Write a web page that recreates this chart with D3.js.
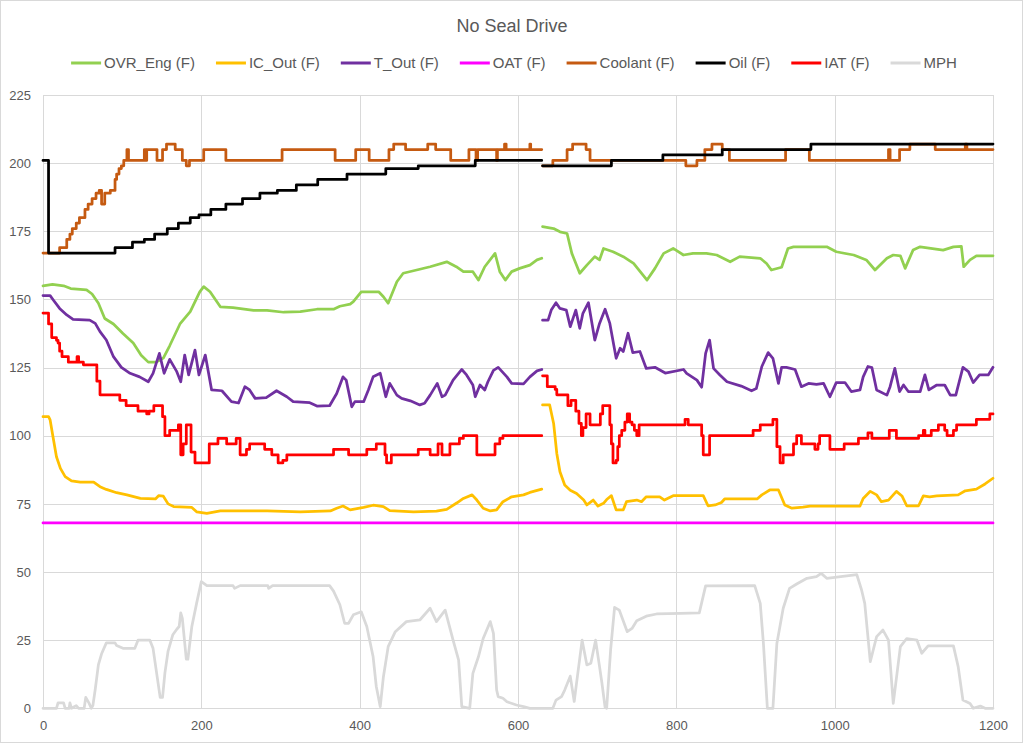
<!DOCTYPE html>
<html>
<head>
<meta charset="utf-8">
<script src="https://cdn.jsdelivr.net/npm/d3@7"></script>
<style>
  body { margin: 0; background: #fff; }
  svg { display: block; }
  text { font-family: "Liberation Sans", Arial, sans-serif; fill: #595959; }
</style>
</head>
<body>
<div id="chart"></div>
<script>
// ---- data: [time, value]; null marks the break between the two drives
var ovrEng = [[0,155],[12,155.5],[26,155],[35,154],[55,153.5],[62,152],[70,148.6],[78,143],[89,141],[101,137.5],[114,134],[124,129.5],[133,127],[143,127],[152,128.5],[160,133],[173,141],[186,145.5],[198,152.8],[203,154.7],[211,152.8],[224,147.3],[240,147],[266,146],[283,146],[304,145.3],[325,145.5],[346,146.4],[367,146.4],[375,147.5],[388,148.3],[392,149.2],[402,152.8],[424,152.8],[430,151],[436,148.6],[447,156.5],[455,159.6],[472,160.8],[489,162],[510,163.8],[522,162],[531,160.2],[543,160.2],[550,157.1],[558,162],[571,166.9],[577,160.2],[584,157.1],[592,160.2],[602,161.4],[615,162.6],[624,164.5],[630,165.1],
  null,
  [631,176.7],[645,176],[653,174.8],[662,174.2],[668,166.9],[678,159.6],[687,162.6],[697,165.7],[703,164.5],[708,168.7],[720,167.5],[733,165.7],[746,163.2],[763,157.1],[773,161.4],[784,166.9],[796,168.7],[809,166.3],[821,166.9],[838,166.9],[851,166.3],[868,163.8],[880,165.7],[906,165.1],[914,163.2],[920,160.8],[933,161.8],[941,168.7],[948,169.3],[990,169.3],[1002,167.5],[1024,166.3],[1040,164.5],[1051,160.8],[1066,165.1],[1074,166.3],[1083,166],[1089,161.4],[1099,168.1],[1108,169.3],[1137,168.1],[1150,169.3],[1160,169.5],[1163,162],[1171,164.5],[1179,166],[1200,166]];

var icOut = [[0,107],[7,107],[9,105.8],[13,99],[17,92.3],[22,88],[28,85],[36,83.4],[47,83],[64,83],[72,81.3],[80,80.3],[93,79.1],[106,78.3],[123,77],[142,76.8],[146,78],[152,77.8],[158,75],[165,74],[188,73.7],[194,72.1],[207,71.5],[224,72.4],[283,72.4],[325,72.1],[363,72.4],[371,73.4],[379,74.2],[388,72.8],[405,73.7],[417,74.5],[430,74],[438,72.5],[468,72.1],[497,72.3],[510,73],[523,75.4],[531,77],[542,78.3],[548,76.4],[556,73.4],[565,72.4],[573,72.8],[581,75.8],[592,77.6],[607,78.3],[615,79.2],[630,80.4],
  null,
  [631,111.3],[640,111.3],[645,104.5],[649,93.5],[653,86.8],[659,81.9],[666,80],[674,78.8],[683,76.4],[687,74.6],[695,76.4],[701,74.2],[708,75.2],[712,76.6],[718,78],[724,72.8],[733,72.8],[737,75.8],[750,76.4],[756,75.8],[762,77.6],[779,77.6],[785,76.4],[796,78],[834,78],[840,74.3],[849,74.6],[857,75.5],[861,76.8],[902,76.8],[908,78.3],[918,80.1],[929,80.1],[937,74.6],[946,73.4],[960,73.8],[969,74.2],[1032,74.2],[1036,77],[1045,79.6],[1053,78.3],[1059,75.8],[1068,76.4],[1078,79.6],[1085,77.9],[1091,74.3],[1106,74.3],[1112,77.9],[1120,77.6],[1129,77.9],[1156,78.3],[1165,79.8],[1179,80.4],[1190,82.3],[1200,84.4]];

var tOut = [[0,151.4],[9,151.4],[13,149.8],[21,146.7],[30,144.3],[38,142.7],[59,142.4],[66,141.2],[72,138.2],[80,135.1],[89,129],[99,125.1],[110,122.9],[122,121.6],[133,119.8],[139,122.9],[147,130.2],[153,122.9],[160,128],[169,123.5],[174,119.8],[179,129.6],[184,122.3],[192,131.4],[197,122.3],[205,129.6],[213,116.8],[226,116.5],[238,112.5],[247,112],[255,118],[261,116.8],[268,113.7],[282,114],[295,116.5],[308,114.3],[316,112.5],[337,112.1],[346,110.9],[362,111],[371,115.5],[379,121.6],[383,120.4],[390,110.6],[394,112.5],[405,112.5],[411,116.8],[417,121.6],[426,122.9],[433,114.3],[438,119.2],[447,114.9],[453,113.7],[464,112.8],[476,111.3],[482,111.9],[489,114.9],[498,119.2],[504,114.3],[508,114.9],[518,120.4],[529,124.3],[535,122.3],[543,118.6],[546,114.3],[552,118.6],[558,116.8],[562,119.8],[569,124],[575,125.1],[586,121.6],[592,119.2],[607,119],[615,121.6],[624,123.8],[630,124.3],
  null,
  [631,142.4],[638,142.4],[642,146.1],[648,148.8],[653,146.7],[661,146.1],[666,140],[673,146.1],[678,139.4],[682,144.9],[689,148.8],[697,135.1],[703,141.2],[710,146.4],[716,141.2],[724,128.4],[729,132.1],[733,130.9],[739,137.6],[745,130.5],[754,130.9],[762,124.7],[773,125.1],[786,123],[809,124.3],[813,122.9],[826,120.4],[832,117.8],[837,130.2],[842,135.1],[847,124.7],[855,122.3],[864,119.8],[882,118.2],[895,116.5],[901,117.3],[908,125.4],[916,130.5],[922,128.4],[929,119.2],[933,125.1],[939,125.1],[950,124.3],[958,118],[967,119.2],[977,118.8],[986,119.2],[994,114.3],[1002,119.5],[1013,119.5],[1021,116.2],[1032,116.8],[1036,121.6],[1042,125.4],[1047,125],[1053,116.8],[1066,114.9],[1070,118],[1076,124.7],[1082,116.2],[1087,118.6],[1093,116.2],[1108,116.2],[1114,122.3],[1119,116.8],[1129,118.6],[1139,118.6],[1146,114.9],[1153,114.9],[1162,125.1],[1169,123.5],[1175,119.5],[1183,122.3],[1194,122.3],[1200,125.1]];

var oat = [[0,68],[630,68],[631,68],[1200,68]];

// coolant, oil and IAT are stepped readings
var coolant = [[0,167],[21,169],[30,172],[34,174],[37,176],[42,178],[46,180],[53,183],[57,185],[62,187],[67,189],[71,190],[74,185],[78,189],[85,190],[91,194],[93,196],[96,198],[99,199],[102,201],[106,205],[108,201],[128,205],[130,201],[131,205],[144,201],[151,205],[156,207],[167,205],[176,201],[181,199],[185,201],[203,205],[231,201],[302,205],[369,201],[395,205],[412,201],[437,205],[443,207],[458,205],[486,207],[496,205],[515,201],[538,205],[547,201],[549,205],[573,201],[574,205],[583,207],[585,205],[615,207],[616,205],[630,205],
  null,
  [631,199],[644,201],[662,205],[669,207],[686,205],[691,201],[812,199],[826,201],[836,205],[845,207],[858,205],[867,201],[938,205],[968,201],[1068,205],[1070,201],[1082,205],[1095,207],[1127,205],[1165,207],[1167,205],[1200,205]];

var oil = [[0,201],[7,167],[91,169],[113,171],[128,172],[141,174],[157,176],[171,178],[186,180],[197,181],[212,183],[231,185],[252,187],[274,189],[296,190],[320,192],[347,194],[384,196],[433,198],[474,199],[546,201],[630,201],
  null,
  [631,199],[718,201],[783,203],[858,205],[970,207],[1200,207]];

var iat = [[0,145],[7,141],[11,136],[17,135],[19,134],[21,131],[24,129],[32,127],[43,129],[45,127],[51,126],[68,120],[72,115],[97,113],[105,111],[120,109],[131,108],[134,109],[140,111],[151,107],[154,100],[160,102],[171,104],[174,93],[177,97],[181,104],[187,94],[192,90],[205,90],[210,97],[221,99],[232,97],[244,99],[249,93],[257,95],[261,97],[280,95],[289,93],[297,90],[303,91],[308,93],[367,95],[386,93],[409,95],[421,97],[432,93],[434,90],[440,93],[474,95],[480,95],[489,93],[499,97],[504,93],[514,97],[526,99],[531,100],[548,93],[565,93],[571,97],[577,99],[581,100],[630,100],
  null,
  [631,122],[637,118],[647,117],[649,115],[662,115],[663,111],[667,113],[672,113],[673,109],[677,104.5],[680,100],[682,103],[686,108],[691,104],[702,104],[704,108],[707,111],[715,111],[716,104],[718,97],[720,90],[724,91],[726,96],[728,100],[731,102],[735,105],[738,108],[741,105],[744,104],[747,102],[750,100],[753,104],[811,106],[815,104],[829,104],[832,100],[834,93],[840,93],[842,100],[895,100],[897,102],[906,104],[922,106],[927,96],[931,90],[935,93],[946,93],[948,97],[952,100],[958,97],[975,95],[979,97],[981,100],[994,95],[1012,97],[1030,99],[1042,101],[1047,99],[1069,102],[1078,99],[1106,100],[1112,102],[1114,100],[1122,102],[1131,104],[1139,102],[1142,100],[1150,102],[1154,104],[1179,106],[1196,108],[1200,108]];

var mph = [[0,0],[17,0],[19,2],[26,2],[28,0],[33,0],[34,2],[36,0],[42,1],[45,0],[52,0],[54,4],[58,2],[61,0],[63,1],[66,7],[70,16],[74,20],[80,24],[91,24],[93,23],[101,22],[116,22],[120,25],[135,25],[139,22],[144,12],[148,4],[151,4],[154,13],[158,21],[164,27],[169,29],[172,30],[174,35],[176,33],[181,18],[183,18],[188,30],[194,38.5],[200,46.5],[207,45],[240,45],[242,44],[249,45],[284,45],[285,44],[290,45],[362,45],[367,43],[375,38],[381,31.2],[386,31.2],[392,34.3],[402,35.4],[409,30],[417,18.9],[421,8],[426,0.6],[430,11.6],[436,22.6],[445,28.1],[459,31.8],[476,32.4],[489,36.7],[497,31.8],[508,36],[518,25],[525,17.7],[529,0.6],[539,0],[543,12.8],[550,18.9],[556,25.6],[565,31.8],[569,27.5],[573,6.7],[575,4.3],[581,3.7],[586,2.4],[598,1.2],[607,0.6],[615,0],[644,0],[648,3],[655,4.3],[659,6.7],[666,11.8],[671,2.5],[675,11.6],[681,25],[687,15.9],[692,16.5],[698,25],[703,15.3],[706,9.3],[710,0.4],[712,0],[717,21.4],[722,37],[728,36],[738,28.1],[744,29.3],[750,32.1],[762,33.8],[775,34.6],[805,34.8],[829,35],[837,44.9],[899,45],[906,38.5],[910,23.8],[915,0],[922,0],[927,23.8],[935,36.7],[943,44],[952,45.6],[965,47.7],[977,48.3],[983,49.5],[990,47.7],[1028,49],[1034,43.4],[1038,38.5],[1045,17.1],[1053,26.3],[1061,28.7],[1068,25],[1074,1.8],[1083,22.6],[1091,25.6],[1104,25],[1110,20.2],[1118,22.9],[1150,22.9],[1156,15.3],[1162,3],[1171,1.8],[1175,0],[1184,0.8],[1190,0],[1200,0]];

var seriesNames = ["OVR_Eng (F)", "IC_Out (F)", "T_Out (F)", "OAT (F)", "Coolant (F)", "Oil (F)", "IAT (F)", "MPH"];
var seriesColors = ["#92D050", "#FFC000", "#7030A0", "#FF00FF", "#C55A11", "#000000", "#FF0000", "#D9D9D9"];
var seriesStepped = [false, false, false, false, true, true, true, false];
var xTicks = [0, 200, 400, 600, 800, 1000, 1200];
var yTicks = [0, 25, 50, 75, 100, 125, 150, 175, 200, 225];

var series = [ovrEng, icOut, tOut, oat, coolant, oil, iat, mph].map(function(d, i) {
    return {name: seriesNames[i], values: d, color: seriesColors[i], step: seriesStepped[i]};
});

var width = 1024, height = 744;
var margin = {top: 95, right: 31, bottom: 35.7, left: 43};

var svg = d3.select('#chart').append('svg')
    .attr('width', width)
    .attr('height', height);

// chart border
svg.append('rect')
    .attr('x', 0.5).attr('y', 0.5)
    .attr('width', width - 2).attr('height', height - 2)
    .attr('fill', '#fff')
    .attr('stroke', '#D9D9D9');

var x = d3.scaleLinear().domain([0, 1200]).range([margin.left, width - margin.right]);
var y = d3.scaleLinear().domain([0, 225]).range([height - margin.bottom, margin.top]);

// gridlines
svg.append('g').selectAll('line.h')
    .data(yTicks).enter().append('line')
    .attr('x1', x(0)).attr('x2', x(1200))
    .attr('y1', function(d) { return Math.round(y(d)) + 0.5; })
    .attr('y2', function(d) { return Math.round(y(d)) + 0.5; })
    .attr('stroke', '#D9D9D9');
svg.append('g').selectAll('line.v')
    .data(xTicks).enter().append('line')
    .attr('y1', y(0)).attr('y2', y(225))
    .attr('x1', function(d) { return Math.round(x(d)) + 0.5; })
    .attr('x2', function(d) { return Math.round(x(d)) + 0.5; })
    .attr('stroke', '#D9D9D9');

// axes (labels only)
var yAxis = svg.append('g')
    .attr('transform', 'translate(' + (x(0) - 12) + ',0)')
    .call(d3.axisLeft(y).tickValues(yTicks).tickSize(0).tickPadding(0));
var xAxis = svg.append('g')
    .attr('transform', 'translate(0,' + (y(0) + 12) + ')')
    .call(d3.axisBottom(x).tickValues(xTicks).tickFormat(d3.format('d')).tickSize(0).tickPadding(0));
[xAxis, yAxis].forEach(function(a) {
    a.select('.domain').remove();
    a.selectAll('text').style('font-size', '13px').attr('fill', '#595959')
        .style('font-family', '"Liberation Sans", Arial, sans-serif');
});

// lines
var line = d3.line()
    .defined(function(d) { return d !== null; })
    .x(function(d) { return x(d[0]); })
    .y(function(d) { return y(d[1]); });

svg.append('g').selectAll('path')
    .data(series).enter().append('path')
    .attr('d', function(s) { return line.curve(s.step ? d3.curveStepAfter : d3.curveLinear)(s.values); })
    .attr('fill', 'none')
    .attr('stroke', function(s) { return s.color; })
    .attr('stroke-width', 2.75)
    .attr('stroke-linejoin', 'round')
    .attr('stroke-linecap', 'round');

// title
svg.append('text')
    .attr('x', 512).attr('y', 32)
    .attr('text-anchor', 'middle')
    .style('font-size', '18px')
    .text('No Seal Drive');

// legend, laid out from measured text widths and centred
var legend = svg.append('g');
var items = legend.selectAll('g').data(series).enter().append('g');
items.append('line')
    .attr('x1', 0).attr('x2', 30).attr('y1', 63).attr('y2', 63)
    .attr('stroke', function(s) { return s.color; })
    .attr('stroke-width', 3);
items.append('text')
    .attr('x', 33).attr('y', 68)
    .style('font-size', '15px')
    .text(function(s) { return s.name; });

var gap = 21, pos = 0, offsets = [];
items.each(function() {
    offsets.push(pos);
    pos += 33 + d3.select(this).select('text').node().getComputedTextLength() + gap;
});
var total = pos - gap;
var start = 514 - total / 2;
items.attr('transform', function(d, i) { return 'translate(' + (start + offsets[i]) + ',0)'; });
</script>
</body>
</html>
